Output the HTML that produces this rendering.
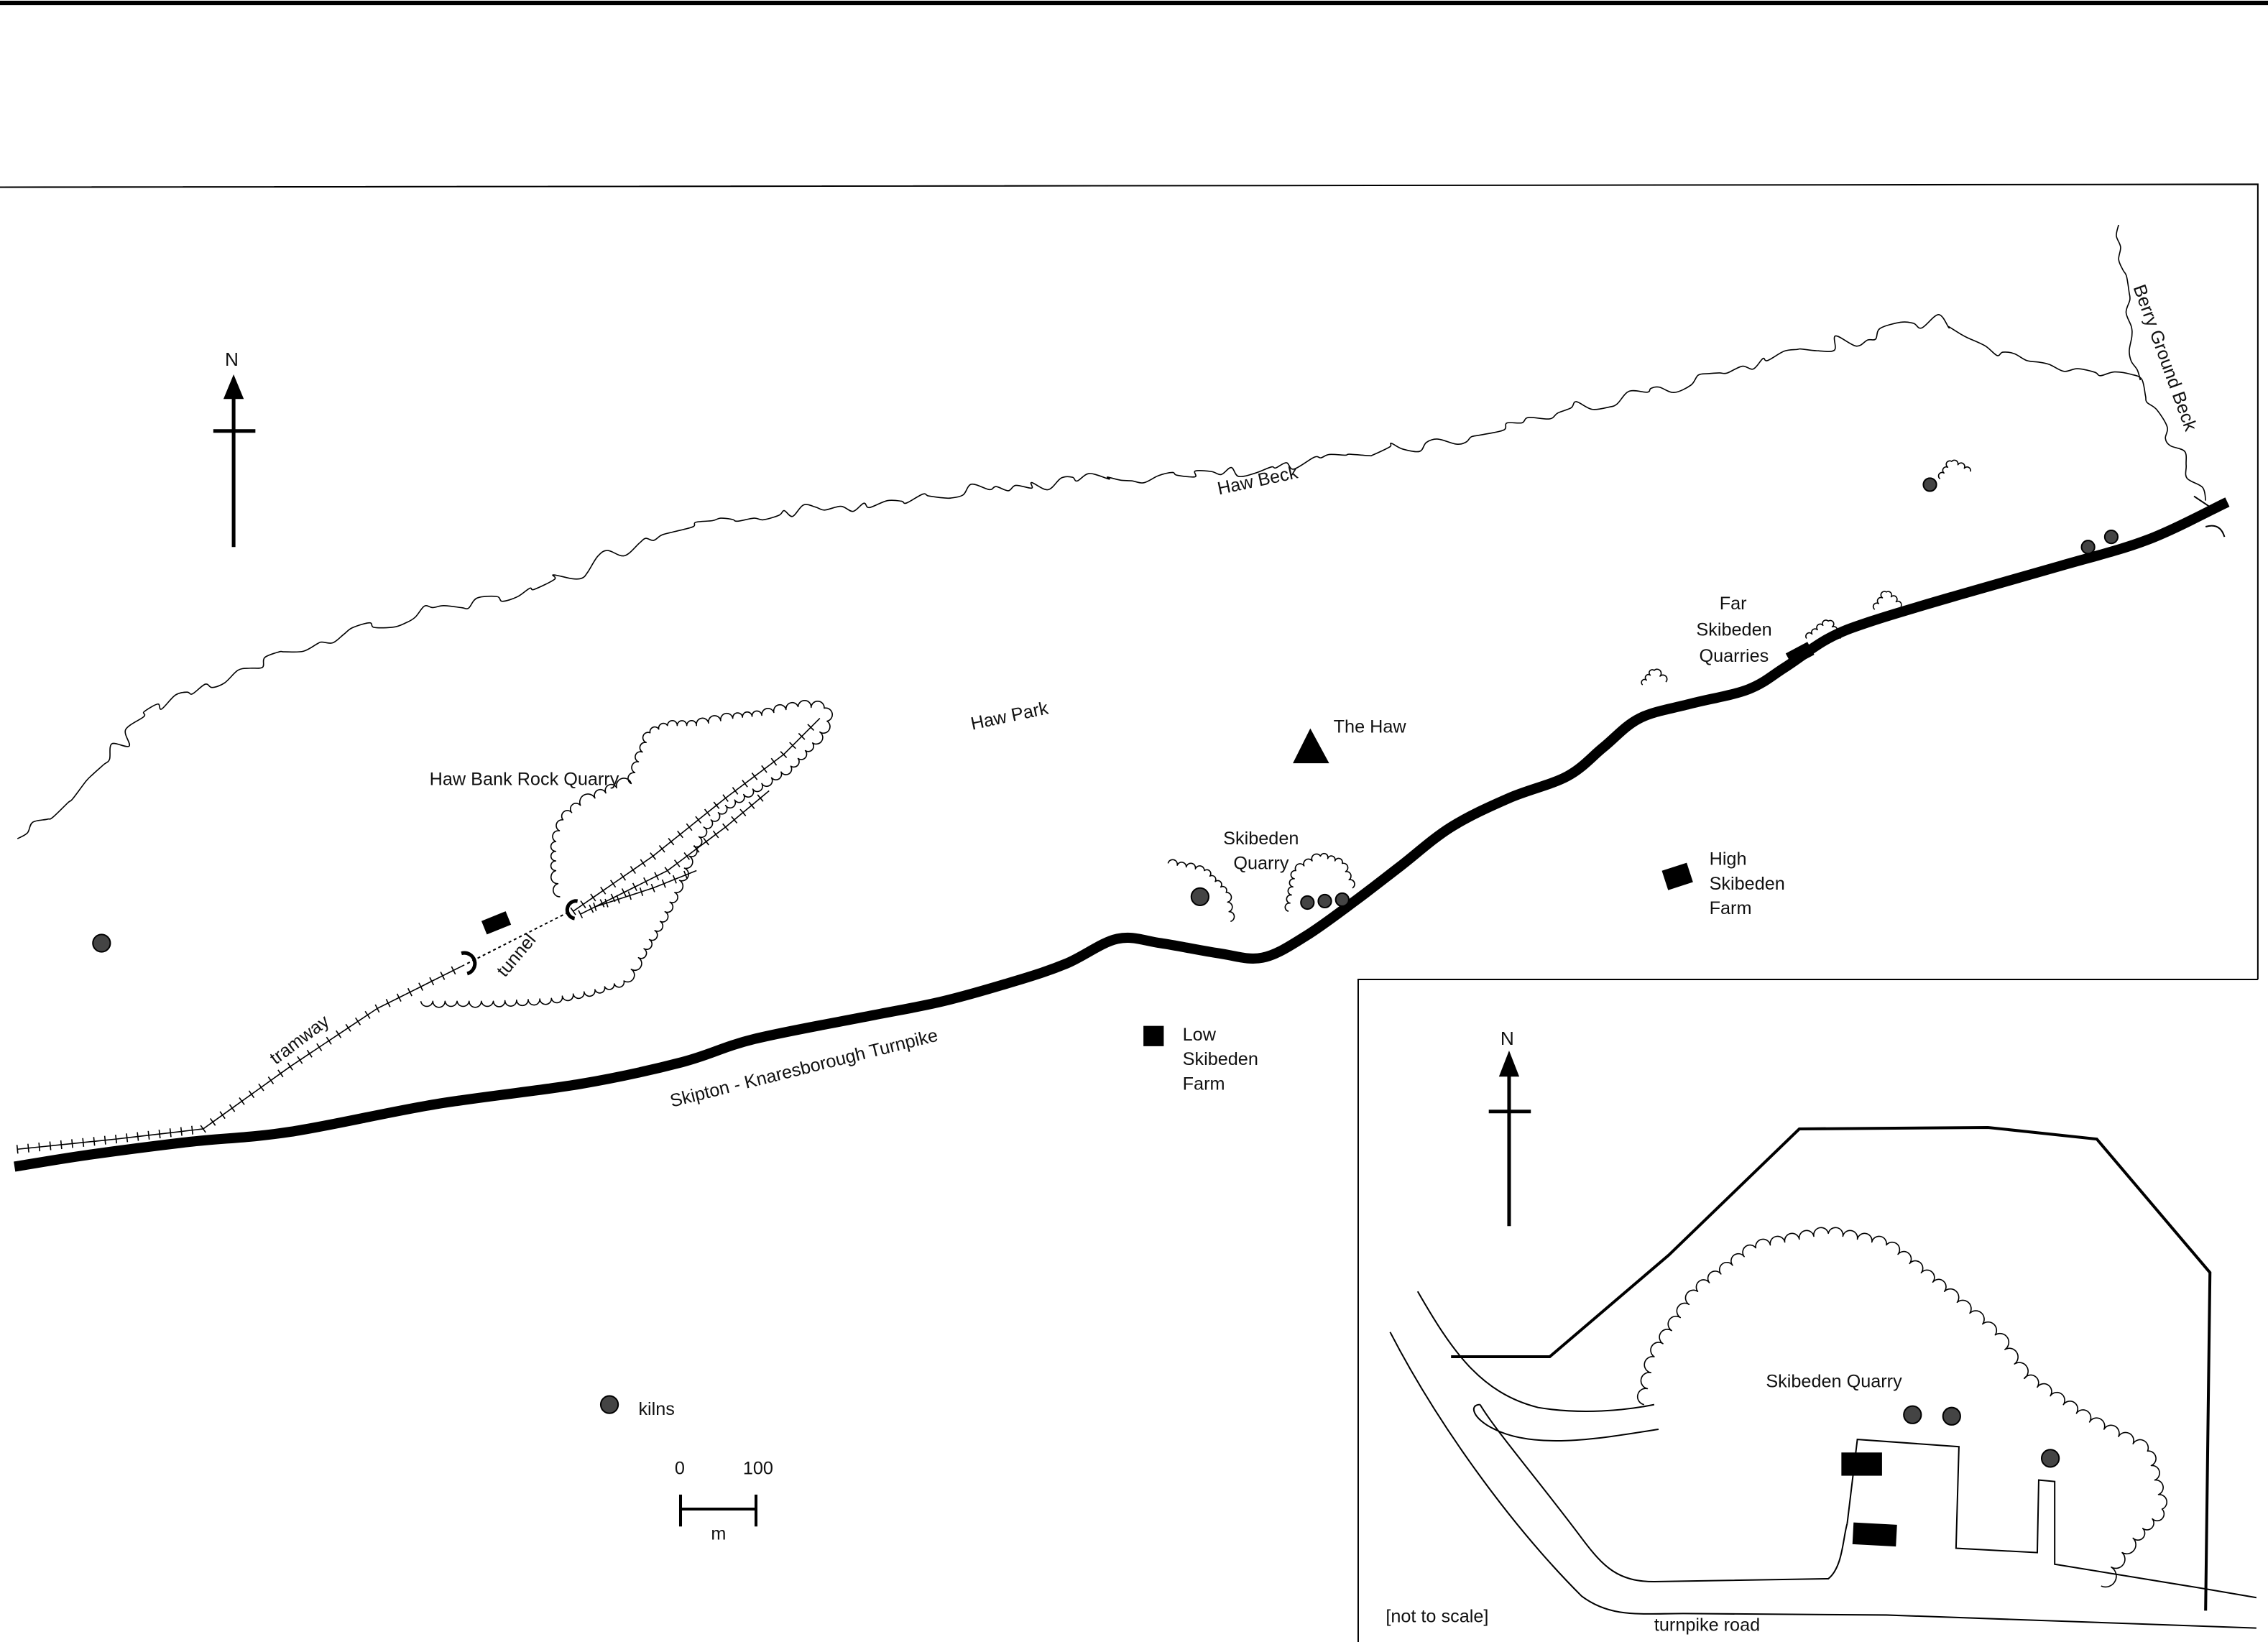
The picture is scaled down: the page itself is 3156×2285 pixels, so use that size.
<!DOCTYPE html>
<html><head><meta charset="utf-8"><style>
html,body{margin:0;padding:0;background:#fff}
svg{display:block}
text{font-family:"Liberation Sans",sans-serif;font-size:12.5px;fill:#111}
</style></head><body>
<svg id="s" width="3156" height="2285" viewBox="0 0 1563 1131.6" preserveAspectRatio="none" xmlns="http://www.w3.org/2000/svg">
<rect width="1563" height="1132" fill="#fff"/>
<line x1="0" y1="2" x2="1563" y2="2" stroke="#000" stroke-width="3"/>
<polyline points="0,129 1556,127 1556,675" fill="none" stroke="#000" stroke-width="1"/>
<polyline points="936,1132 936,675 1556,675" fill="none" stroke="#000" stroke-width="1"/>

<line x1="161" y1="270" x2="161" y2="377" stroke="#000" stroke-width="2.5"/>
<polygon points="161,258 154,275 168,275" fill="#000"/>
<line x1="147" y1="297" x2="176" y2="297" stroke="#000" stroke-width="2.5"/>
<text x="155" y="252" style="font-size:13px">N</text>
<line x1="1040" y1="735" x2="1040" y2="845" stroke="#000" stroke-width="2.5"/>
<polygon points="1040,724 1033,742 1047,742" fill="#000"/>
<line x1="1026" y1="766" x2="1055" y2="766" stroke="#000" stroke-width="2.5"/>
<text x="1034" y="720" style="font-size:13px">N</text>

<g id="dyn" fill="none" stroke="#000"></g>

<line x1="322" y1="664" x2="393" y2="628" stroke="#000" stroke-width="1" stroke-dasharray="2,2"/>
<path d="M318,657 A6,6 0 0 1 322,671" fill="none" stroke="#000" stroke-width="2.5"/>
<path d="M398,621 A6,6 0 0 0 396,633" fill="none" stroke="#000" stroke-width="2.5"/>
<rect x="333" y="631" width="18" height="10" fill="#000" transform="rotate(-22 342 636)"/>

<rect x="788" y="707" width="14" height="14" fill="#000"/>
<rect x="1147" y="597" width="18" height="14" fill="#000" transform="rotate(-18 1156 604)"/>
<rect x="1232" y="446" width="17" height="10" fill="#000" transform="rotate(-28 1240 451)"/>
<polygon points="903,502 891,526 916,526" fill="#000"/>

<g fill="#444" stroke="#000" stroke-width="1">
<circle cx="70" cy="650" r="6"/><circle cx="827" cy="618" r="6"/>
<circle cx="901" cy="622" r="4.5"/><circle cx="913" cy="621" r="4.5"/><circle cx="925" cy="620" r="4.5"/>
<circle cx="1330" cy="334" r="4.5"/><circle cx="1439" cy="377" r="4.5"/><circle cx="1455" cy="370" r="4.5"/>
<circle cx="420" cy="968" r="6"/>
<circle cx="1318" cy="975" r="6"/><circle cx="1345" cy="976" r="6"/><circle cx="1413" cy="1005" r="6"/>
</g>

<g stroke="#000" stroke-width="2"><line x1="469" y1="1040" x2="521" y2="1040"/><line x1="469" y1="1030" x2="469" y2="1052"/><line x1="521" y1="1030" x2="521" y2="1052"/></g>
<text x="465" y="1016">0</text><text x="512" y="1016">100</text><text x="490" y="1061">m</text>
<text x="440" y="975">kilns</text>

<polyline points="1000,935 1068,935 1150,865 1240,778 1370,777 1445,785 1523,877 1520,1110" fill="none" stroke="#000" stroke-width="2"/>
<path d="M977,890 C1000,930 1020,960 1060,970 C1090,975 1120,972 1140,968" fill="none" stroke="#000" stroke-width="1"/>
<path d="M1143,985 C1110,990 1060,1000 1030,985 C1015,978 1012,968 1020,968" fill="none" stroke="#000" stroke-width="1"/>
<path d="M1020,968 C1030,985 1060,1020 1090,1060 C1105,1080 1115,1090 1140,1090 L1260,1088 C1270,1080 1270,1060 1273,1050" fill="none" stroke="#000" stroke-width="1"/>
<polyline points="1273,1050 1280,992 1350,997 1348,1067 1404,1070 1405,1020 1416,1021 1416,1078 1520,1095 1555,1101" fill="none" stroke="#000" stroke-width="1"/>
<path d="M958,918 C990,980 1040,1050 1090,1100 C1110,1115 1130,1112 1160,1112 L1300,1113 L1555,1122" fill="none" stroke="#000" stroke-width="1"/>
<rect x="1269" y="1001" width="28" height="16" fill="#000"/>
<rect x="1277" y="1050" width="30" height="15" fill="#000" transform="rotate(3 1292 1057)"/>

<text x="296" y="541">Haw Bank Rock Quarry</text>
<text x="670" y="503" transform="rotate(-12 670 503)">Haw Park</text>
<text x="840" y="341" transform="rotate(-12 840 341)">Haw Beck</text>
<text x="919" y="505">The Haw</text>
<text x="843" y="582">Skibeden</text><text x="850" y="599">Quarry</text>
<text x="1185" y="420">Far</text><text x="1169" y="438">Skibeden</text><text x="1171" y="456">Quarries</text>
<text x="1178" y="596">High</text><text x="1178" y="613">Skibeden</text><text x="1178" y="630">Farm</text>
<text x="815" y="717">Low</text><text x="815" y="734">Skibeden</text><text x="815" y="751">Farm</text>
<text x="463" y="763" transform="rotate(-14 463 763)">Skipton - Knaresborough Turnpike</text>
<text x="190" y="734" transform="rotate(-37 190 734)">tramway</text>
<text x="348" y="674" transform="rotate(-50 348 674)">tunnel</text>
<text x="1470" y="198" transform="rotate(70 1470 198)">Berry Ground Beck</text>
<text x="1217" y="956">Skibeden Quarry</text>
<text x="955" y="1118">[not to scale]</text>
<text x="1140" y="1124">turnpike road</text>
</svg>
<script>
var NS="http://www.w3.org/2000/svg",g=document.getElementById('dyn');
function add(d,w){var p=document.createElementNS(NS,'path');p.setAttribute('d',d);p.setAttribute('stroke-width',w||1);p.setAttribute('stroke-linejoin','round');g.appendChild(p);return p;}
function dens(pts,step){var o=[];for(var i=0;i<pts.length-1;i++){var a=pts[i],b=pts[i+1],dx=b[0]-a[0],dy=b[1]-a[1],L=Math.hypot(dx,dy),n=Math.max(1,Math.round(L/step));for(var k=0;k<n;k++)o.push([a[0]+dx*k/n,a[1]+dy*k/n]);}o.push(pts[pts.length-1]);return o;}
function cr(p){var d='M'+p[0].join(',');for(var i=0;i<p.length-1;i++){var p0=p[i-1]||p[i],p1=p[i],p2=p[i+1],p3=p[i+2]||p2;d+=' C'+(p1[0]+(p2[0]-p0[0])/6).toFixed(1)+','+(p1[1]+(p2[1]-p0[1])/6).toFixed(1)+' '+(p2[0]-(p3[0]-p1[0])/6).toFixed(1)+','+(p2[1]-(p3[1]-p1[1])/6).toFixed(1)+' '+p2[0]+','+p2[1];}return d;}
var seed=7;function rnd(){seed=(seed*9301+49297)%233280;return seed/233280;}
function wiggle(pts,amp,step){var q=dens(pts,step||7);var r=[q[0]];for(var i=1;i<q.length-1;i++){r.push([+(q[i][0]+(rnd()-.5)*amp).toFixed(1),+(q[i][1]+(rnd()-.5)*amp).toFixed(1)]);}r.push(q[q.length-1]);add(cr(r),0.8);}
function scallop(pts,step,sw){var q=dens(pts,step);var d='M'+q[0].join(',');for(var i=1;i<q.length;i++){var L=Math.hypot(q[i][0]-q[i-1][0],q[i][1]-q[i-1][1]);d+=' A'+(L/2).toFixed(1)+','+(L/2).toFixed(1)+' 0 0 '+(sw?0:1)+' '+q[i][0].toFixed(1)+','+q[i][1].toFixed(1);}add(d,0.8);}
function rail(pts,step){var q=dens(pts,step);var d='M'+q[0].join(',');for(var i=1;i<q.length;i++)d+=' L'+q[i].join(',');add(d,0.8);var t='';for(var i=0;i<q.length-1;i++){var a=q[i],b=q[i+1],dx=b[0]-a[0],dy=b[1]-a[1],L=Math.hypot(dx,dy),nx=-dy/L*3,ny=dx/L*3;t+='M'+(a[0]+nx)+','+(a[1]+ny)+' L'+(a[0]-nx)+','+(a[1]-ny)+' ';}add(t,0.8);}
add(cr([[10,804],[60,796],[130,787],[200,780],[300,761],[400,747],[470,732],[520,716],[600,700],[650,690],[700,676],[735,664],[770,647],[800,650],[840,657],[870,660],[900,645],[935,620],[965,597],[1000,570],[1040,550],[1080,535],[1105,515],[1130,495],[1165,485],[1205,475],[1230,460],[1260,440],[1290,428],[1350,410],[1420,390],[1480,372],[1535,346]]),7);
wiggle([[12,578],[40,560],[70,530],[100,490],[150,470],[200,450],[260,430],[300,420],[350,410],[400,395],[430,380],[460,370],[520,355],[580,350],[640,340],[700,335],[760,330],[820,328],[880,325],[940,310],[1000,305],[1040,293],[1090,280],[1140,270],[1200,255],[1260,238],[1300,228],[1335,220],[1360,235],[1400,250],[1440,255],[1475,262],[1495,300],[1520,345]],9,8);
wiggle([[1460,155],[1465,200],[1468,240],[1475,262]],5,8);
add('M1512,342 L1527,352 M1520,363 Q1530,360 1533,370',1);
rail([[12,792],[80,785],[140,778],[200,735],[260,695],[320,665]],8);
rail([[395,628],[450,590],[500,550],[540,520],[565,495]],8);
rail([[400,630],[460,600],[500,570],[530,545]],8);
rail([[410,625],[450,612],[480,600]],8);
scallop([[290,690],[340,690],[380,688],[410,682],[430,676],[440,660],[455,635],[465,615],[475,590],[485,570],[500,555],[525,540],[545,528],[560,512],[570,497],[568,488],[550,487],[525,493],[505,495],[480,500],[460,500],[448,505],[440,525],[435,540],[425,543],[410,550],[400,555],[388,565],[383,580],[383,600],[386,618]],8,true);
scallop([[805,595],[830,600],[845,615],[848,635]],6,false);
scallop([[888,628],[893,600],[910,590],[925,595],[932,612]],6,false);
scallop([[1132,472],[1140,462],[1148,470]],5,false);
scallop([[1245,440],[1260,428],[1268,440]],5,false);
scallop([[1292,420],[1300,408],[1310,418]],5,false);
scallop([[1337,330],[1345,318],[1358,325]],5,false);
scallop([[1133,968],[1140,935],[1170,890],[1210,860],[1260,850],[1300,858],[1340,890],[1375,920],[1395,950],[1440,980],[1480,1000],[1490,1040],[1470,1060],[1455,1080],[1448,1093]],11,false);
</script>
</body></html>
